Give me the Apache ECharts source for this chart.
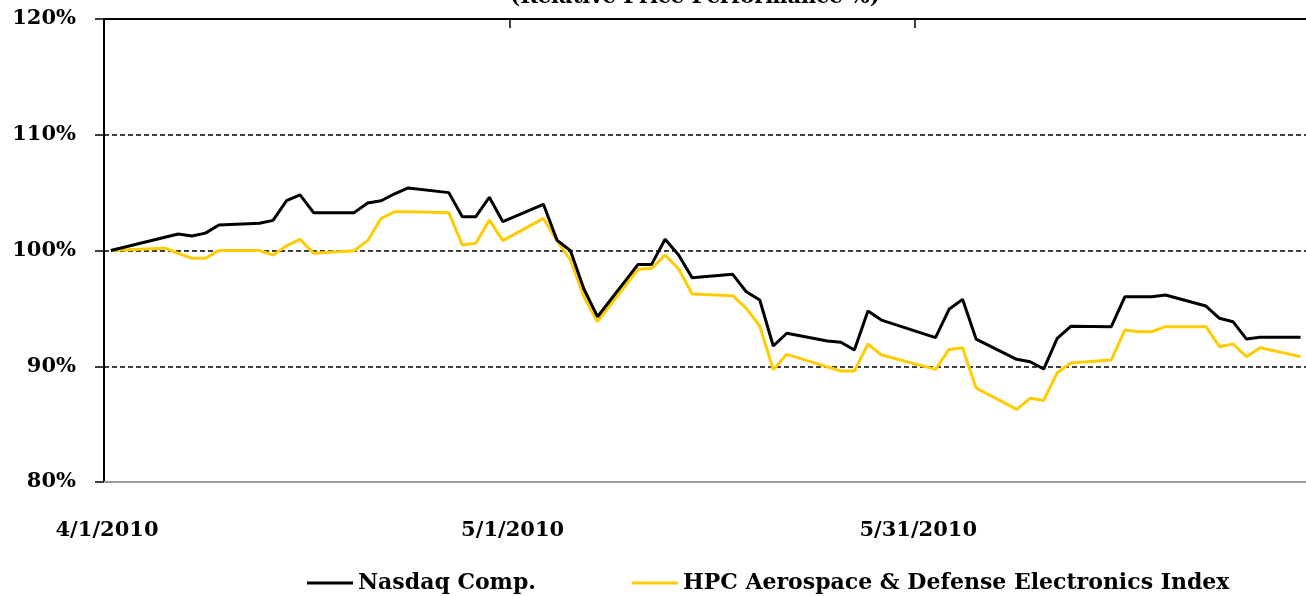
<!DOCTYPE html>
<html>
<head>
<meta charset="utf-8">
<script src="https://cdn.jsdelivr.net/npm/echarts@6/dist/echarts.min.js"></script>
<style>
html,body{margin:0;padding:0;background:#fff}
#main{width:1306px;height:596px}
</style>
</head>
<body>
<div id="main"></div>
<script>
var title = '(Relative Price Performance %)'
var seriesNames = ['Nasdaq Comp.', 'HPC Aerospace & Defense Electronics Index']
var startDate = '2010-04-01'
var tickLabels = ['4/1/2010', '5/1/2010', '5/31/2010']

var dates = [
	'2010-04-01','2010-04-05','2010-04-06','2010-04-07','2010-04-08','2010-04-09',
	'2010-04-12','2010-04-13','2010-04-14','2010-04-15','2010-04-16',
	'2010-04-19','2010-04-20','2010-04-21','2010-04-22','2010-04-23',
	'2010-04-26','2010-04-27','2010-04-28','2010-04-29','2010-04-30',
	'2010-05-03','2010-05-04','2010-05-05','2010-05-06','2010-05-07',
	'2010-05-10','2010-05-11','2010-05-12','2010-05-13','2010-05-14',
	'2010-05-17','2010-05-18','2010-05-19','2010-05-20','2010-05-21',
	'2010-05-24','2010-05-25','2010-05-26','2010-05-27','2010-05-28',
	'2010-06-01','2010-06-02','2010-06-03','2010-06-04',
	'2010-06-07','2010-06-08','2010-06-09','2010-06-10','2010-06-11',
	'2010-06-14','2010-06-15','2010-06-16','2010-06-17','2010-06-18',
	'2010-06-21','2010-06-22','2010-06-23','2010-06-24','2010-06-25',
	'2010-06-28'
]

var nasdaq = [
	100, 101.15, 101.43, 101.25, 101.5, 102.2,
	102.35, 102.6, 104.3, 104.8, 103.27,
	103.27, 104.1, 104.3, 104.9, 105.4,
	105.0, 102.92, 102.92, 104.6, 102.49,
	103.99, 100.9, 99.98, 96.65, 94.28,
	98.8, 98.8, 100.97, 99.61, 97.65,
	97.94, 96.44, 95.72, 91.75, 92.85,
	92.18, 92.07, 91.4, 94.77, 93.99,
	92.47, 94.92, 95.78, 92.35,
	90.6, 90.39, 89.76, 92.4, 93.45,
	93.42, 96.0, 96.0, 96.0, 96.15,
	95.2, 94.14, 93.85, 92.35, 92.5,
	92.5
]

var hpc = [
	100, 100.2, 99.75, 99.33, 99.33, 100.0,
	100.0, 99.6, 100.4, 100.96, 99.76,
	99.98, 100.85, 102.78, 103.35, 103.35,
	103.27, 100.48, 100.62, 102.63, 100.85,
	102.78, 100.85, 99.18, 96.0, 93.85,
	98.38, 98.46, 99.61, 98.4, 96.24,
	96.1, 95.0, 93.48, 89.7, 91.03,
	89.95, 89.59, 89.59, 91.92, 90.97,
	89.73, 91.45, 91.6, 88.12,
	86.28, 87.23, 87.05, 89.44, 90.28,
	90.54, 93.13, 92.99, 92.99, 93.42,
	93.42, 91.69, 91.92, 90.83, 91.6,
	90.83
]

var app = (function(){
	var chart = echarts.init(document.getElementById('main'))
	var font = '"DejaVu Serif", "Liberation Serif", serif'
	var day0 = Date.parse(startDate)

	// days since start, plotted in the middle of each day slot
	function toDay(d){
		return (Date.parse(d) - day0) / 864e5 + 0.5
	}

	function pairs(values){
		return values.map(function(v, i){ return [toDay(dates[i]), v] })
	}

	chart.setOption({
		animation: false,
		backgroundColor: '#fff',
		title: {
			text: title,
			left: 690,
			top: -18,
			textAlign: 'center',
			textStyle: {fontFamily: font, fontWeight: 'bold', fontSize: 21, color: '#000'}
		},
		legend: {
			left: 302,
			top: 567,
			itemGap: 96,
			itemWidth: 46,
			itemHeight: 3,
			icon: 'rect',
			textStyle: {fontFamily: font, fontWeight: 'bold', fontSize: 22, color: '#000'},
			data: seriesNames
		},
		grid: {left: 104, right: 0, top: 19, bottom: 114},
		xAxis: [{
			type: 'value',
			min: 0,
			max: 88.9,
			interval: 30,
			axisLine: {show: true, lineStyle: {color: '#999', width: 2}},
			axisTick: {show: false},
			splitLine: {show: false},
			axisLabel: {
				margin: 38,
				padding: [0, 0, 0, 6],
				showMaxLabel: false,
				fontFamily: font, fontWeight: 'bold', fontSize: 21, color: '#000',
				formatter: function(v){ return tickLabels[Math.round(v / 30)] || '' }
			}
		}, {
			type: 'value',
			position: 'top',
			min: 0,
			max: 88.9,
			interval: 30,
			axisLine: {show: true, lineStyle: {color: '#000', width: 2}},
			axisTick: {show: true, inside: true, length: 9, customValues: [30, 60], lineStyle: {color: '#000', width: 1.5}},
			axisLabel: {show: false},
			splitLine: {show: false}
		}],
		yAxis: {
			type: 'value',
			min: 80,
			max: 120,
			interval: 10,
			axisLine: {show: true, lineStyle: {color: '#000', width: 2}},
			axisTick: {show: true, length: 9, lineStyle: {color: '#000', width: 1.5}},
			axisLabel: {
				margin: 28,
				fontFamily: font, fontWeight: 'bold', fontSize: 21, color: '#000',
				formatter: '{value}%'
			},
			splitLine: {show: true, lineStyle: {color: '#000', width: 1.5, type: [5, 3]}}
		},
		series: [{
			name: seriesNames[0],
			type: 'line',
			showSymbol: false,
			data: pairs(nasdaq),
			lineStyle: {color: '#000', width: 3},
			itemStyle: {color: '#000'},
			z: 3
		}, {
			name: seriesNames[1],
			type: 'line',
			showSymbol: false,
			data: pairs(hpc),
			lineStyle: {color: '#ffcc00', width: 3},
			itemStyle: {color: '#ffcc00'},
			z: 2
		}]
	})
	return {chart: chart}
})()
</script>
</body>
</html>
